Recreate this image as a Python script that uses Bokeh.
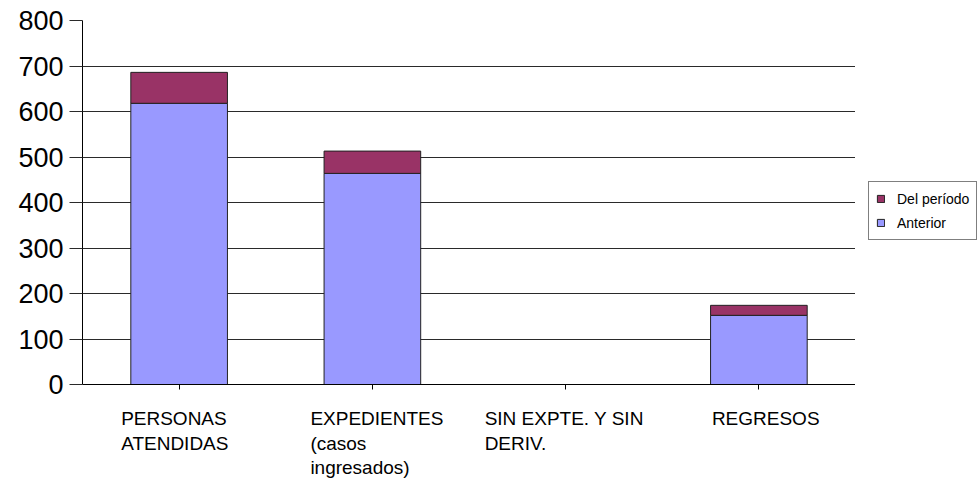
from bokeh.plotting import figure
from bokeh.layouts import column, row
from bokeh.models import (FactorRange, Range1d, Legend, LegendItem,
                          FixedTicker, ColumnDataSource)
from bokeh.core.properties import value
from bokeh.embed import file_html
from bokeh.resources import INLINE

# ---- data ----
categories = ["PERSONAS ATENDIDAS", "EXPEDIENTES (casos ingresados)",
              "SIN EXPTE. Y SIN DERIV.", "REGRESOS"]
category_lines = [["PERSONAS", "ATENDIDAS"],
                  ["EXPEDIENTES", "(casos", "ingresados)"],
                  ["SIN EXPTE. Y SIN", "DERIV."],
                  ["REGRESOS"]]
anterior = [618, 464, 0, 152]
del_periodo = [68, 49, 0, 22]
series_names = ["Anterior", "Del período"]
series_colors = ["#9999FF", "#993366"]
y_ticks = [0, 100, 200, 300, 400, 500, 600, 700, 800]

# ---- layout constants ----
FONT = "Liberation Sans"
LEFT, FRAME_W = 82, 773
TOP, FRAME_H, BOTTOM = 20, 364, 20
LABEL_H = 88
LEG_W = 123
label_block_offsets = [-58, -62, -81, -47]   # px from category centre to block left
line_y_px = [14, 39, 63]                      # px below top of label strip
MAIN_H = TOP + FRAME_H + BOTTOM
GRID = "#2a2a2a"

x_range = FactorRange(factors=categories, range_padding=0)
source = ColumnDataSource(dict(cat=categories, anterior=anterior, del_periodo=del_periodo))

p = figure(width=LEFT + FRAME_W, height=MAIN_H, output_backend="svg",
           toolbar_location=None, x_range=x_range, y_range=Range1d(0, 800),
           min_border_left=LEFT, min_border_right=0,
           min_border_top=TOP, min_border_bottom=BOTTOM)
p.outline_line_color = None
p.background_fill_color = "white"
p.border_fill_color = "white"

rs = p.vbar_stack(["anterior", "del_periodo"], x="cat", width=0.5,
                  fill_color=series_colors, line_color="#222222",
                  line_width=1, source=source)

# y axis
p.yaxis.ticker = FixedTicker(ticks=y_ticks)
p.yaxis.axis_line_color = "black"
p.yaxis.major_tick_out = 13
p.yaxis.major_tick_in = 0
p.yaxis.minor_tick_line_color = None
p.yaxis.major_tick_line_color = GRID
p.yaxis.major_label_standoff = 6
p.yaxis.major_label_text_font = FONT
p.yaxis.major_label_text_font_size = "27px"
p.yaxis.major_label_text_color = "black"

# x axis: line and ticks only (labels drawn in strip below)
p.xaxis.axis_line_color = "black"
p.xaxis.major_tick_out = 5
p.xaxis.major_tick_in = 0
p.xaxis.major_tick_line_color = "black"
p.xaxis.major_label_text_color = None
p.xaxis.major_label_text_font_size = "2px"
p.xaxis.major_label_standoff = 0

p.xgrid.grid_line_color = None
p.ygrid.ticker = FixedTicker(ticks=y_ticks)
p.ygrid.grid_line_color = GRID
p.ygrid.grid_line_width = 1

# category label strip (same x range, same frame position)
lx, ly, lt, lo = [], [], [], []
for i, lines in enumerate(category_lines):
    for j, line in enumerate(lines):
        lx.append(categories[i])
        ly.append(line_y_px[j])
        lt.append(line)
        lo.append(label_block_offsets[i])
lsrc = ColumnDataSource(dict(x=lx, y=ly, text=lt, xo=lo))

q = figure(width=LEFT + FRAME_W, height=LABEL_H, output_backend="svg",
           toolbar_location=None, x_range=x_range, y_range=Range1d(LABEL_H, 0),
           min_border_left=LEFT, min_border_right=0,
           min_border_top=0, min_border_bottom=0,
           x_axis_location=None, y_axis_location=None)
q.outline_line_color = None
q.grid.grid_line_color = None
q.background_fill_color = "white"
q.border_fill_color = "white"
q.text(x="x", y="y", text="text", x_offset="xo", source=lsrc,
       text_font=value(FONT), text_font_size=value("19px"),
       text_align="left", text_baseline="middle", text_color="black")

# legend panel: key renderers in the series colours (kept outside this panel's view)
lg = figure(width=LEG_W, height=MAIN_H, output_backend="svg",
            toolbar_location=None, x_range=Range1d(0, 1), y_range=Range1d(0, 1),
            min_border_left=0, min_border_right=0,
            min_border_top=0, min_border_bottom=0,
            x_axis_location=None, y_axis_location=None)
lg.outline_line_color = None
lg.grid.grid_line_color = None
lg.background_fill_color = "white"
lg.border_fill_color = "white"
key_src = ColumnDataSource(dict(x=[-5.0], top=[-5.0], bottom=[-6.0]))
keys = [lg.vbar(x="x", top="top", bottom="bottom", width=0.5, source=key_src,
                fill_color=c, line_color="#222222")
        for c in series_colors]
legend = Legend(items=[LegendItem(label=series_names[1], renderers=[keys[1]]),
                       LegendItem(label=series_names[0], renderers=[keys[0]])],
                location=(13, MAIN_H - 240), margin=0, padding=7, spacing=5,
                glyph_width=9, glyph_height=9, label_standoff=12,
                label_height=19,
                label_text_font=FONT, label_text_font_size="14px",
                label_text_color="black",
                border_line_color="black", border_line_width=1,
                background_fill_color="white")
lg.add_layout(legend)

layout = row(column(p, q, spacing=0), lg, spacing=0)
open("out.html", "w").write(file_html(layout, INLINE))
